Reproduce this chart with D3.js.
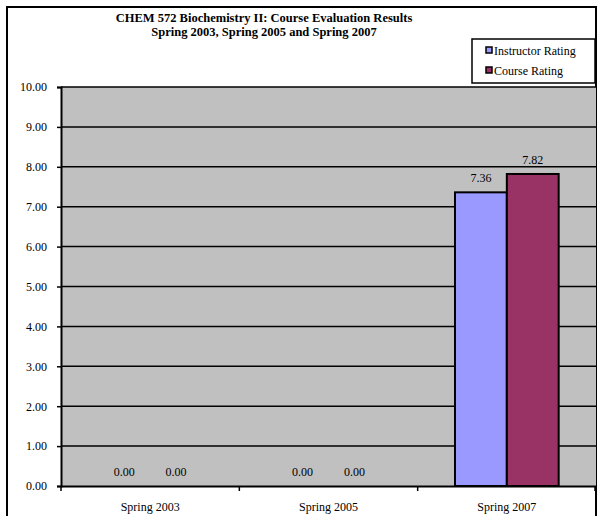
<!DOCTYPE html>
<html>
<head>
<meta charset="utf-8">
<script src="https://cdn.jsdelivr.net/npm/d3@7"></script>
<style>
  html, body { margin: 0; padding: 0; background: #fff; }
  svg { display: block; font-family: "Liberation Serif", "Times New Roman", serif; }
</style>
</head>
<body>
<svg id="chart" width="597" height="516"></svg>
<script>
// Course evaluation ratings by term
const terms = ["Spring 2003", "Spring 2005", "Spring 2007"];
const seriesNames = ["Instructor Rating", "Course Rating"];
const instructorRating = [0.00, 0.00, 7.36];
const courseRating = [0.00, 0.00, 7.82];
const yTicks = [0, 1, 2, 3, 4, 5, 6, 7, 8, 9, 10];
const seriesColors = ["#9999FF", "#993366"];

const svg = d3.select("#chart");

// Outer chart frame
svg.append("rect")
  .attr("x", 7).attr("y", 7).attr("width", 589).attr("height", 520)
  .attr("fill", "#fff").attr("stroke", "#000").attr("stroke-width", 2);

const plot = { left: 61, right: 596, top: 87, bottom: 486 };

const x0 = d3.scaleBand().domain(terms).range([plot.left, plot.right]).paddingInner(0).paddingOuter(0);
const x1 = d3.scaleBand().domain(seriesNames).range([0, x0.bandwidth()]).paddingInner(0).paddingOuter(0.72);
const y = d3.scaleLinear().domain([0, 10]).range([plot.bottom, plot.top]);

// Plot background
svg.append("rect")
  .attr("x", plot.left).attr("y", plot.top)
  .attr("width", plot.right - plot.left).attr("height", plot.bottom - plot.top)
  .attr("fill", "#C0C0C0");

// Horizontal gridlines
svg.append("g").selectAll("line").data(yTicks.filter(d => d > 0)).join("line")
  .attr("x1", plot.left).attr("x2", plot.right)
  .attr("y1", d => y(d)).attr("y2", d => y(d))
  .attr("stroke", "#000").attr("stroke-width", 1.5);

// Bars
const rows = terms.map((t, i) => ({ term: t, values: [instructorRating[i], courseRating[i]] }));
const groups = svg.append("g").selectAll("g").data(rows).join("g")
  .attr("transform", d => `translate(${x0(d.term)},0)`);

groups.selectAll("rect").data(d => d.values.map((v, j) => ({ v, j }))).join("rect")
  .filter(d => d.v > 0)
  .attr("x", d => x1(seriesNames[d.j]))
  .attr("y", d => y(d.v))
  .attr("width", x1.bandwidth())
  .attr("height", d => y(0) - y(d.v))
  .attr("fill", d => seriesColors[d.j])
  .attr("stroke", "#000").attr("stroke-width", 2);

// Value labels
groups.selectAll("text").data(d => d.values.map((v, j) => ({ v, j }))).join("text")
  .attr("x", d => x1(seriesNames[d.j]) + x1.bandwidth() / 2)
  .attr("y", d => y(d.v) - 10)
  .attr("text-anchor", "middle")
  .attr("font-size", 12)
  .attr("fill", "#000")
  .text(d => d.v.toFixed(2));

// Y axis
const yAxis = svg.append("g")
  .attr("transform", `translate(${plot.left},0)`)
  .call(d3.axisLeft(y).tickValues(yTicks).tickFormat(d3.format(".2f")).tickSize(4).tickPadding(10));
yAxis.select(".domain").attr("stroke", "#000").attr("stroke-width", 2);
yAxis.selectAll(".tick line").attr("stroke", "#000").attr("stroke-width", 1.5);
yAxis.selectAll(".tick text").attr("font-size", 12).attr("font-family", "Liberation Serif, serif").attr("fill", "#000");

// X axis
const xAxis = svg.append("g")
  .attr("transform", `translate(0,${plot.bottom})`)
  .call(d3.axisBottom(x0).tickSize(0).tickPadding(16));
xAxis.select(".domain").attr("stroke", "#000").attr("stroke-width", 2);
xAxis.selectAll(".tick text").attr("font-size", 12).attr("font-family", "Liberation Serif, serif").attr("fill", "#000");
// Category boundary ticks
xAxis.append("g").selectAll("line").data(terms.map(t => x0(t)).concat([plot.right - 1])).join("line")
  .attr("x1", d => d).attr("x2", d => d)
  .attr("y1", 0).attr("y2", 5)
  .attr("stroke", "#000").attr("stroke-width", 1.5);

// Title
const title = svg.append("text")
  .attr("x", 264).attr("y", 22)
  .attr("text-anchor", "middle")
  .attr("font-size", 12.5).attr("font-weight", "bold");
title.append("tspan").attr("x", 264).attr("dy", 0).text("CHEM 572 Biochemistry II: Course Evaluation Results");
title.append("tspan").attr("x", 264).attr("dy", 14).text("Spring 2003, Spring 2005 and Spring 2007");

// Legend
const legend = svg.append("g");
legend.append("rect")
  .attr("x", 472).attr("y", 39).attr("width", 123).attr("height", 44)
  .attr("fill", "#fff").attr("stroke", "#000").attr("stroke-width", 1.5);
const items = legend.selectAll("g").data(seriesNames).join("g")
  .attr("transform", (d, i) => `translate(486,${51 + i * 20})`);
items.append("rect")
  .attr("x", 0).attr("y", -4).attr("width", 6).attr("height", 6)
  .attr("fill", (d, i) => seriesColors[i]).attr("stroke", "#000").attr("stroke-width", 1.5);
items.append("text")
  .attr("x", 8).attr("y", 3.5)
  .attr("font-size", 12)
  .text(d => d);
</script>
</body>
</html>
